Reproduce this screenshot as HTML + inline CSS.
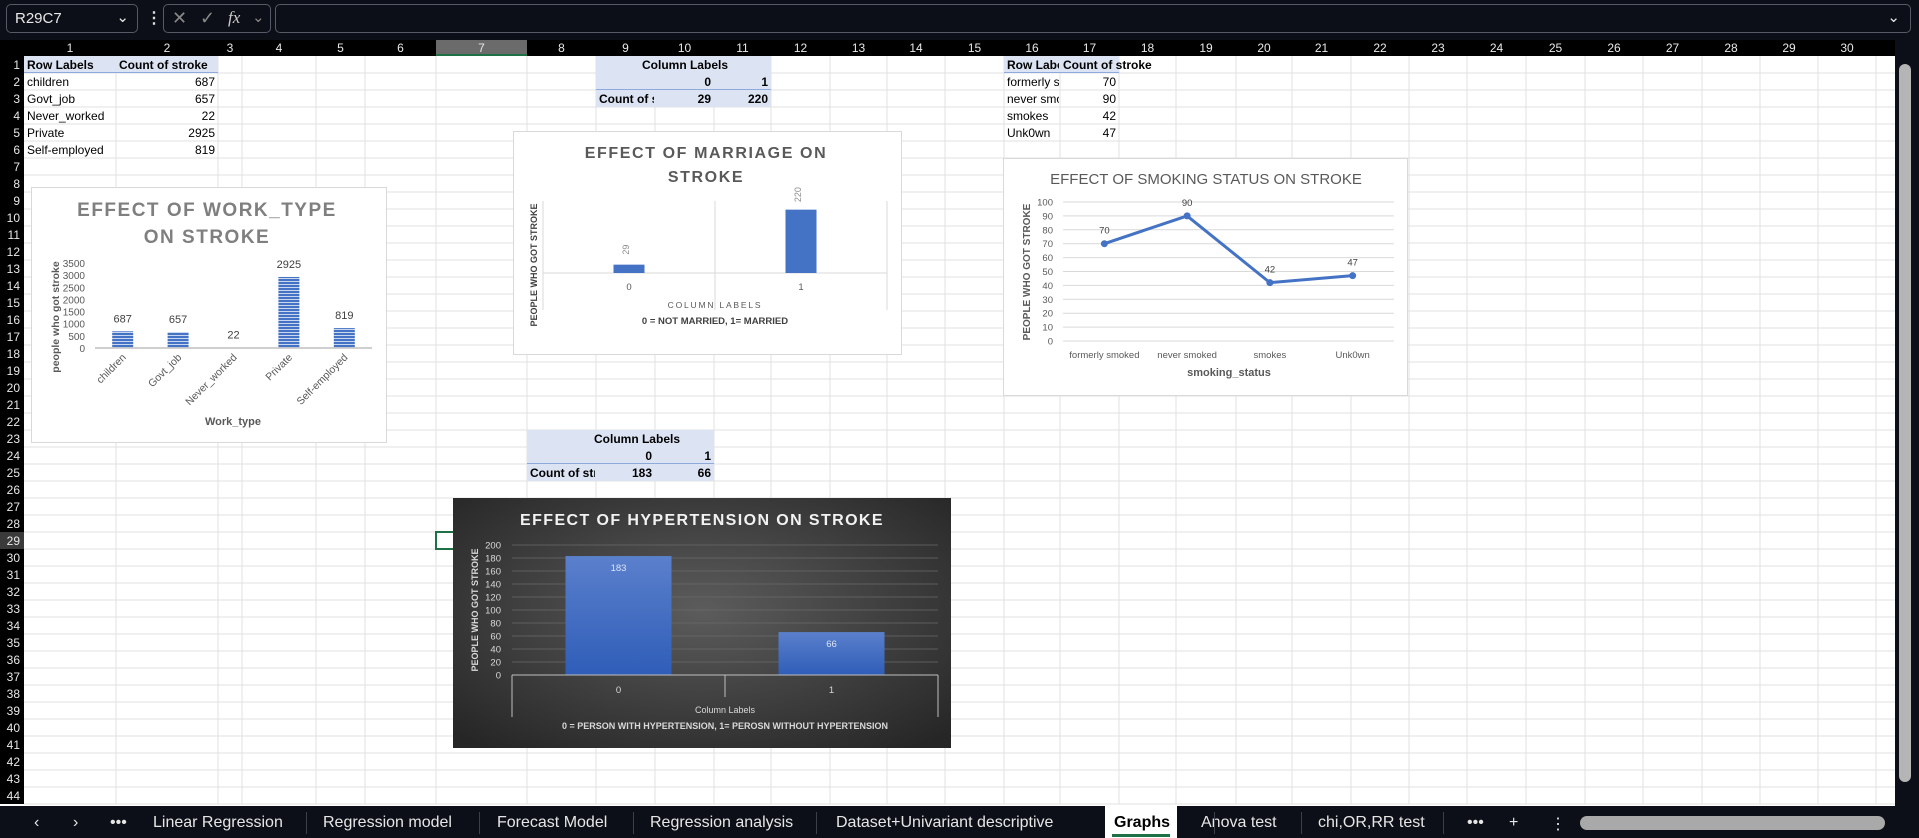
<!DOCTYPE html>
<html><head><meta charset="utf-8"><title>Graphs sheet</title>
<style>
html,body{margin:0;padding:0;width:1919px;height:838px;overflow:hidden;background:#fff;font-family:"Liberation Sans",sans-serif;}
#top{position:absolute;left:0;top:0;width:1919px;height:40px;background:#0c0f17;}
.box{position:absolute;border:1px solid #555a66;border-radius:5px;background:#0c0f17;color:#e8e8e8;font-size:15px;}
#tabs{position:absolute;left:0;top:806px;width:1919px;height:32px;background:#0c0f17;color:#e6e6e6;font-size:16px;}
.tab{position:absolute;top:8px;white-space:nowrap;}
.sep{position:absolute;top:6px;width:1px;height:22px;background:#3a3f4a;}
svg text{font-family:"Liberation Sans",sans-serif;}
</style></head>
<body>
<div id="top">
  <div class="box" style="left:6px;top:4px;width:130px;height:27px;"><span style="position:absolute;left:8px;top:5px;">R29C7</span><span style="position:absolute;right:8px;top:3px;">&#8964;</span></div>
  <div style="position:absolute;left:146px;top:8px;color:#ddd;font-size:16px;font-weight:bold;">&#8942;</div>
  <div class="box" style="left:163px;top:4px;width:106px;height:27px;color:#888;"><span style="position:absolute;left:8px;top:3px;font-size:18px;">&#10005;</span><span style="position:absolute;left:36px;top:3px;font-size:18px;">&#10003;</span><span style="position:absolute;left:64px;top:3px;font-style:italic;font-family:'Liberation Serif',serif;font-size:17px;color:#ccc;">fx</span><span style="position:absolute;left:88px;top:3px;">&#8964;</span></div>
  <div class="box" style="left:275px;top:4px;width:1634px;height:27px;"><span style="position:absolute;right:10px;top:3px;">&#8964;</span></div>
</div>

<svg id="sheet" width="1919" height="766" viewBox="0 40 1919 766" style="position:absolute;left:0;top:40px;">
<defs>
 <pattern id="stripe" width="4" height="3" patternUnits="userSpaceOnUse"><rect width="4" height="3" fill="#c9d6ef"/><rect width="4" height="2" fill="#4472c4"/></pattern>
 <radialGradient id="dark" cx="50%" cy="45%" r="70%"><stop offset="0" stop-color="#5c5c5c"/><stop offset="1" stop-color="#262626"/></radialGradient>
 <linearGradient id="hbar" x1="0" y1="0" x2="0" y2="1"><stop offset="0" stop-color="#5b80cc"/><stop offset="1" stop-color="#2f5db8"/></linearGradient>
</defs>
<g id="grid"></g>
<g id="cells"></g>
<g id="charts"></g>
</svg>

<div id="tabs"></div>

<script>
// ---------- chart data ----------
const workCats = ['children','Govt_job','Never_worked','Private','Self-employed'];
const workVals = [687,657,22,2925,819];
const workTicks = [0,500,1000,1500,2000,2500,3000,3500];
const marCats = ['0','1'];
const marVals = [29,220];
const smkCats = ['formerly smoked','never smoked','smokes','Unk0wn'];
const smkVals = [70,90,42,47];
const smkTicks = [0,10,20,30,40,50,60,70,80,90,100];
const hypCats = ['0','1'];
const hypVals = [183,66];
const hypTicks = [0,20,40,60,80,100,120,140,160,180,200];

const NS='http://www.w3.org/2000/svg';
function mk(parent,tag,attrs,text){const e=document.createElementNS(NS,tag);for(const k in attrs)e.setAttribute(k,attrs[k]);if(text!==undefined)e.textContent=text;parent.appendChild(e);return e;}

// ---------- grid ----------
const X=[24,116,218,242,316,365,436,527,596,655,714,771,830,887,945,1004,1060,1119,1176,1236,1292,1351,1409,1467,1526,1585,1643,1702,1760,1818,1876,1934];
const rowTop=i=>56+(i-1)*17;
const grid=document.getElementById('grid');
for(let i=1;i<=44;i++){const l=mk(grid,'line',{x1:24,x2:1895,y1:rowTop(i)+17,y2:rowTop(i)+17,stroke:'#e1e1e1','stroke-width':1});
}
for(let j=1;j<X.length-1;j++){const l=mk(grid,'line',{x1:X[j],x2:X[j],y1:56,y2:804,stroke:'#e1e1e1'});
}
const hb=mk(grid,'rect',{x:0,y:40,width:1919,height:16,fill:'#000'});

const rb=mk(grid,'rect',{x:0,y:56,width:24,height:748,fill:'#000'});

mk(grid,'rect',{x:436,y:40,width:91,height:16,fill:'#6b6b6b'});
mk(grid,'rect',{x:436,y:54,width:91,height:2,fill:'#1e7145'});
mk(grid,'rect',{x:0,y:rowTop(29),width:24,height:17,fill:'#3a3a3a'});
for(let j=0;j<30;j++){const t=mk(grid,'text',{x:(X[j]+X[j+1])/2,y:52,'font-size':12,fill:'#e8e8e8','text-anchor':'middle'},String(j+1));
}
for(let i=1;i<=44;i++){const t=mk(grid,'text',{x:20,y:rowTop(i)+13,'font-size':12,fill:'#e8e8e8','text-anchor':'end'},String(i));
}
const vs=mk(grid,'rect',{x:1895,y:40,width:24,height:766,fill:'#0c0f17'});

mk(grid,'rect',{x:1899,y:64,width:12,height:718,rx:6,fill:'#b5b5b5'});
const sel=mk(grid,'rect',{x:436,y:rowTop(29),width:91,height:17,fill:'none',stroke:'#1e7145','stroke-width':2});


// ---------- pivot cells ----------
const cells=document.getElementById('cells');
const defs=document.querySelector('defs');
const BL='#dce3f3';
let clipN=0;
function fill(c1,c2,r1,r2,name){const r=mk(cells,'rect',{x:X[c1-1],y:rowTop(r1),width:X[c2]-X[c1-1],height:rowTop(r2)+17-rowTop(r1),fill:BL});
}
function uline(c1,c2,r){mk(cells,'line',{x1:X[c1-1],x2:X[c2],y1:rowTop(r)+16.5,y2:rowTop(r)+16.5,stroke:'#8ea9db'});}
function txt(c,r,s,opt){opt=opt||{};const right=opt.right;const x=right?X[c]-3:X[c-1]+3;
const attrs={x:x,y:rowTop(r)+13,'font-size':12,fill:'#000','font-weight':opt.bold?'bold':'normal','text-anchor':right?'end':'start'};
if(opt.clip){const id='cl'+(clipN++);const cp=mk(defs,'clipPath',{id:id});mk(cp,'rect',{x:X[c-1],y:rowTop(r),width:X[c]-X[c-1]-1,height:17});attrs['clip-path']='url(#'+id+')';}
const t=mk(cells,'text',attrs,s);
}
fill(1,2,1,1,'work-pivot-header');uline(1,2,1);
txt(1,1,'Row Labels',{bold:1});txt(2,1,'Count of stroke',{bold:1});
workCats.forEach((c,i)=>{txt(1,i+2,c);txt(2,i+2,String(workVals[i]),{right:1});});
fill(9,11,1,3,'marriage-pivot');uline(9,11,2);
mk(cells,'text',{x:685,y:rowTop(1)+13,'font-size':12,'font-weight':'bold','text-anchor':'middle'},'Column Labels');
txt(10,2,'0',{bold:1,right:1});txt(11,2,'1',{bold:1,right:1});
txt(9,3,'Count of s',{bold:1,clip:1});txt(10,3,String(marVals[0]),{bold:1,right:1});txt(11,3,String(marVals[1]),{bold:1,right:1});
fill(16,17,1,1,'smoking-pivot-header');uline(16,17,1);
txt(16,1,'Row Label',{bold:1,clip:1});txt(17,1,'Count of stroke',{bold:1});
['formerly s','never smo','smokes','Unk0wn'].forEach((c,i)=>{txt(16,i+2,c,{clip:1});txt(17,i+2,String(smkVals[i]),{right:1});});
fill(8,10,23,25,'hypertension-pivot');uline(8,10,24);
mk(cells,'text',{x:637,y:rowTop(23)+13,'font-size':12,'font-weight':'bold','text-anchor':'middle'},'Column Labels');
txt(9,24,'0',{bold:1,right:1});txt(10,24,'1',{bold:1,right:1});
txt(8,25,'Count of stroke',{bold:1,clip:1});txt(9,25,String(hypVals[0]),{bold:1,right:1});txt(10,25,String(hypVals[1]),{bold:1,right:1});

// ---------- charts ----------
const charts=document.getElementById('charts');

(function(){
 const g=mk(charts,'g',{});
 
 mk(g,'rect',{x:31.5,y:187.5,width:355,height:255,fill:'#fff',stroke:'#d9d9d9'});
 const tt=mk(g,'text',{x:207,y:216,'font-size':19,'font-weight':'bold',fill:'#7f7f7f','text-anchor':'middle','letter-spacing':'1.5'},'EFFECT OF WORK_TYPE');
 
 mk(g,'text',{x:207,y:243,'font-size':19,'font-weight':'bold',fill:'#7f7f7f','text-anchor':'middle','letter-spacing':'1.5'},'ON STROKE');
 const y=v=>348-v/3500*85, x=i=>95+55.4*(i+0.5);
 workTicks.forEach(t=>{const e=mk(g,'text',{x:85,y:y(t)+4,'font-size':10,fill:'#595959','text-anchor':'end'},String(t));
 });
 workVals.forEach((v,i)=>{
  const b=mk(g,'rect',{x:x(i)-10.5,y:y(v),width:21,height:348-y(v),fill:'url(#stripe)'});
  
  const l=mk(g,'text',{x:x(i),y:y(v)-9,'font-size':11,fill:'#404040','text-anchor':'middle'},String(v));
  
  const c=mk(g,'text',{x:x(i)+4,y:358,'font-size':10.5,fill:'#595959','text-anchor':'end',transform:`rotate(-45 ${x(i)+4} 358)`},workCats[i]);
  
 });
 mk(g,'line',{x1:95,x2:372,y1:348,y2:348,stroke:'#bfbfbf','stroke-width':1.5});
 const xt=mk(g,'text',{x:233,y:425,'font-size':11,'font-weight':'bold',fill:'#595959','text-anchor':'middle'},'Work_type');
 
 const yt=mk(g,'text',{x:59,y:317,'font-size':10.5,'font-weight':'bold',fill:'#595959','text-anchor':'middle',transform:'rotate(-90 59 317)'},'people who got stroke');
 
})();

(function(){
 const g=mk(charts,'g',{});
 
 mk(g,'rect',{x:513.5,y:131.5,width:388,height:223,fill:'#fff',stroke:'#d9d9d9'});
 mk(g,'text',{x:706,y:158,'font-size':16,'font-weight':'bold',fill:'#595959','text-anchor':'middle','letter-spacing':'1.6'},'EFFECT OF MARRIAGE ON');
 const t2=mk(g,'text',{x:706,y:182,'font-size':16,'font-weight':'bold',fill:'#595959','text-anchor':'middle','letter-spacing':'1.6'},'STROKE');
 
 [543,715,887].forEach(v=>mk(g,'line',{x1:v,x2:v,y1:201,y2:310,stroke:'#d9d9d9'}));
 mk(g,'line',{x1:543,x2:887,y1:273,y2:273,stroke:'#d9d9d9'});
 const y=v=>273-v/250*72, x=i=>543+172*(i+0.5);
 marVals.forEach((v,i)=>{
  const b=mk(g,'rect',{x:x(i)-15.5,y:y(v),width:31,height:273-y(v),fill:'#4472c4'});
  
  const ly=y(v)-12;
  const l=mk(g,'text',{x:x(i)+3,y:ly,'font-size':9,fill:'#8c8c8c','text-anchor':'middle',transform:`rotate(-90 ${x(i)} ${ly})`},String(v));
  
  const c=mk(g,'text',{x:x(i),y:290,'font-size':9.5,fill:'#595959','text-anchor':'middle'},marCats[i]);
  
 });
 mk(g,'text',{x:715,y:308,'font-size':8.5,fill:'#595959','text-anchor':'middle','letter-spacing':'1.8'},'COLUMN LABELS');
 const st=mk(g,'text',{x:715,y:324,'font-size':9.5,'font-weight':'bold',fill:'#404040','text-anchor':'middle'},'0 = NOT MARRIED, 1= MARRIED');
 
 const yt=mk(g,'text',{x:537,y:265,'font-size':9,'font-weight':'bold',fill:'#404040','text-anchor':'middle',transform:'rotate(-90 537 265)'},'PEOPLE WHO GOT STROKE');
 
})();

(function(){
 const g=mk(charts,'g',{});
 
 mk(g,'rect',{x:1003.5,y:158.5,width:404,height:237,fill:'#fff',stroke:'#d9d9d9'});
 const tt=mk(g,'text',{x:1206,y:184,'font-size':15,fill:'#595959','text-anchor':'middle'},'EFFECT OF SMOKING STATUS ON STROKE');
 
 const y=v=>341-v/100*139, x=i=>1063+82.75*(i+0.5);
 smkTicks.forEach(t=>{mk(g,'line',{x1:1063,x2:1394,y1:y(t),y2:y(t),stroke:'#d9d9d9'});
  const e=mk(g,'text',{x:1053,y:y(t)+3.5,'font-size':9.5,fill:'#595959','text-anchor':'end'},String(t));
  });
 const pts=smkVals.map((v,i)=>x(i)+','+y(v)).join(' ');
 const pl=mk(g,'polyline',{points:pts,fill:'none',stroke:'#4472c4','stroke-width':3,'stroke-linejoin':'round'});
 
 smkVals.forEach((v,i)=>{
  const p=mk(g,'circle',{cx:x(i),cy:y(v),r:3.5,fill:'#4472c4'});
  
  const l=mk(g,'text',{x:x(i),y:y(v)-10,'font-size':9.5,fill:'#404040','text-anchor':'middle'},String(v));
  
  const c=mk(g,'text',{x:x(i),y:358,'font-size':9.5,fill:'#595959','text-anchor':'middle'},smkCats[i]);
  
 });
 const xt=mk(g,'text',{x:1229,y:376,'font-size':11,'font-weight':'bold',fill:'#595959','text-anchor':'middle'},'smoking_status');
 
 const yt=mk(g,'text',{x:1030,y:272,'font-size':10,'font-weight':'bold',fill:'#595959','text-anchor':'middle',transform:'rotate(-90 1030 272)'},'PEOPLE WHO GOT STROKE');
 
})();

(function(){
 const g=mk(charts,'g',{});
 
 mk(g,'rect',{x:453,y:498,width:498,height:250,fill:'url(#dark)'});
 const tt=mk(g,'text',{x:702,y:525,'font-size':16,'font-weight':'bold',fill:'#f2f2f2','text-anchor':'middle','letter-spacing':'1.4'},'EFFECT OF HYPERTENSION ON STROKE');
 
 const y=v=>675-v/200*130, x=i=>512+213*(i+0.5);
 hypTicks.forEach(t=>{if(t>0)mk(g,'line',{x1:512,x2:938,y1:y(t),y2:y(t),stroke:'#6a6a6a','stroke-width':0.8});
  const e=mk(g,'text',{x:501,y:y(t)+3.5,'font-size':9.5,fill:'#d9d9d9','text-anchor':'end'},String(t));
  });
 hypVals.forEach((v,i)=>{
  const b=mk(g,'rect',{x:x(i)-53,y:y(v),width:106,height:675-y(v),fill:'url(#hbar)'});
  
  const l=mk(g,'text',{x:x(i),y:y(v)+15,'font-size':9.5,fill:'#dde4f2','text-anchor':'middle'},String(v));
  
  const c=mk(g,'text',{x:x(i),y:693,'font-size':9.5,fill:'#d9d9d9','text-anchor':'middle'},hypCats[i]);
  
 });
 mk(g,'line',{x1:512,x2:938,y1:675,y2:675,stroke:'#bfbfbf','stroke-width':1});
 [512,725,938].forEach((v,k)=>mk(g,'line',{x1:v,x2:v,y1:675,y2:k==1?697:717,stroke:'#bfbfbf'}));
 mk(g,'text',{x:725,y:713,'font-size':9,fill:'#d9d9d9','text-anchor':'middle'},'Column Labels');
 const st=mk(g,'text',{x:725,y:729,'font-size':9,'font-weight':'bold',fill:'#d9d9d9','text-anchor':'middle'},'0 = PERSON WITH HYPERTENSION, 1= PEROSN WITHOUT HYPERTENSION');
 
 const yt=mk(g,'text',{x:478,y:610,'font-size':9,'font-weight':'bold',fill:'#d9d9d9','text-anchor':'middle',transform:'rotate(-90 478 610)'},'PEOPLE WHO GOT STROKE');
 
})();

// ---------- tabs ----------
const tabs=document.getElementById('tabs');
const tabDefs=[['‹',34],['›',73],['•••',110],['Linear Regression',153],['Regression model',323],['Forecast Model',497],['Regression analysis',650],['Dataset+Univariant descriptive',836],['Graphs',1114],['Anova test',1201],['chi,OR,RR test',1318],['•••',1467],['+',1509],['⋮',1550]];
tabDefs.forEach(([t,x])=>{
 const d=document.createElement('div');d.className='tab';d.textContent=t;d.style.left=x+'px';
 if(t==='Graphs'){d.style.color='#000';d.style.fontWeight='bold';}
 
 
 if(t==='Graphs'){const bg=document.createElement('div');bg.style.cssText='position:absolute;left:1105px;top:0;width:72px;height:32px;background:#fff;';
  
  
  tabs.appendChild(bg);
  const u=document.createElement('div');u.style.cssText='position:absolute;left:1112px;top:28px;width:58px;height:3px;background:#1e7145;';
  
  
  tabs.appendChild(u);}
 tabs.appendChild(d);
});
[306,479,633,816,1214,1301,1443].forEach(x=>{const s=document.createElement('div');s.className='sep';s.style.left=x+'px';
 
 
 tabs.appendChild(s);});
const hs=document.createElement('div');hs.style.cssText='position:absolute;left:1580px;top:10px;width:305px;height:14px;border-radius:7px;background:#a9a9a9;';


tabs.appendChild(hs);
</script>
</body></html>
